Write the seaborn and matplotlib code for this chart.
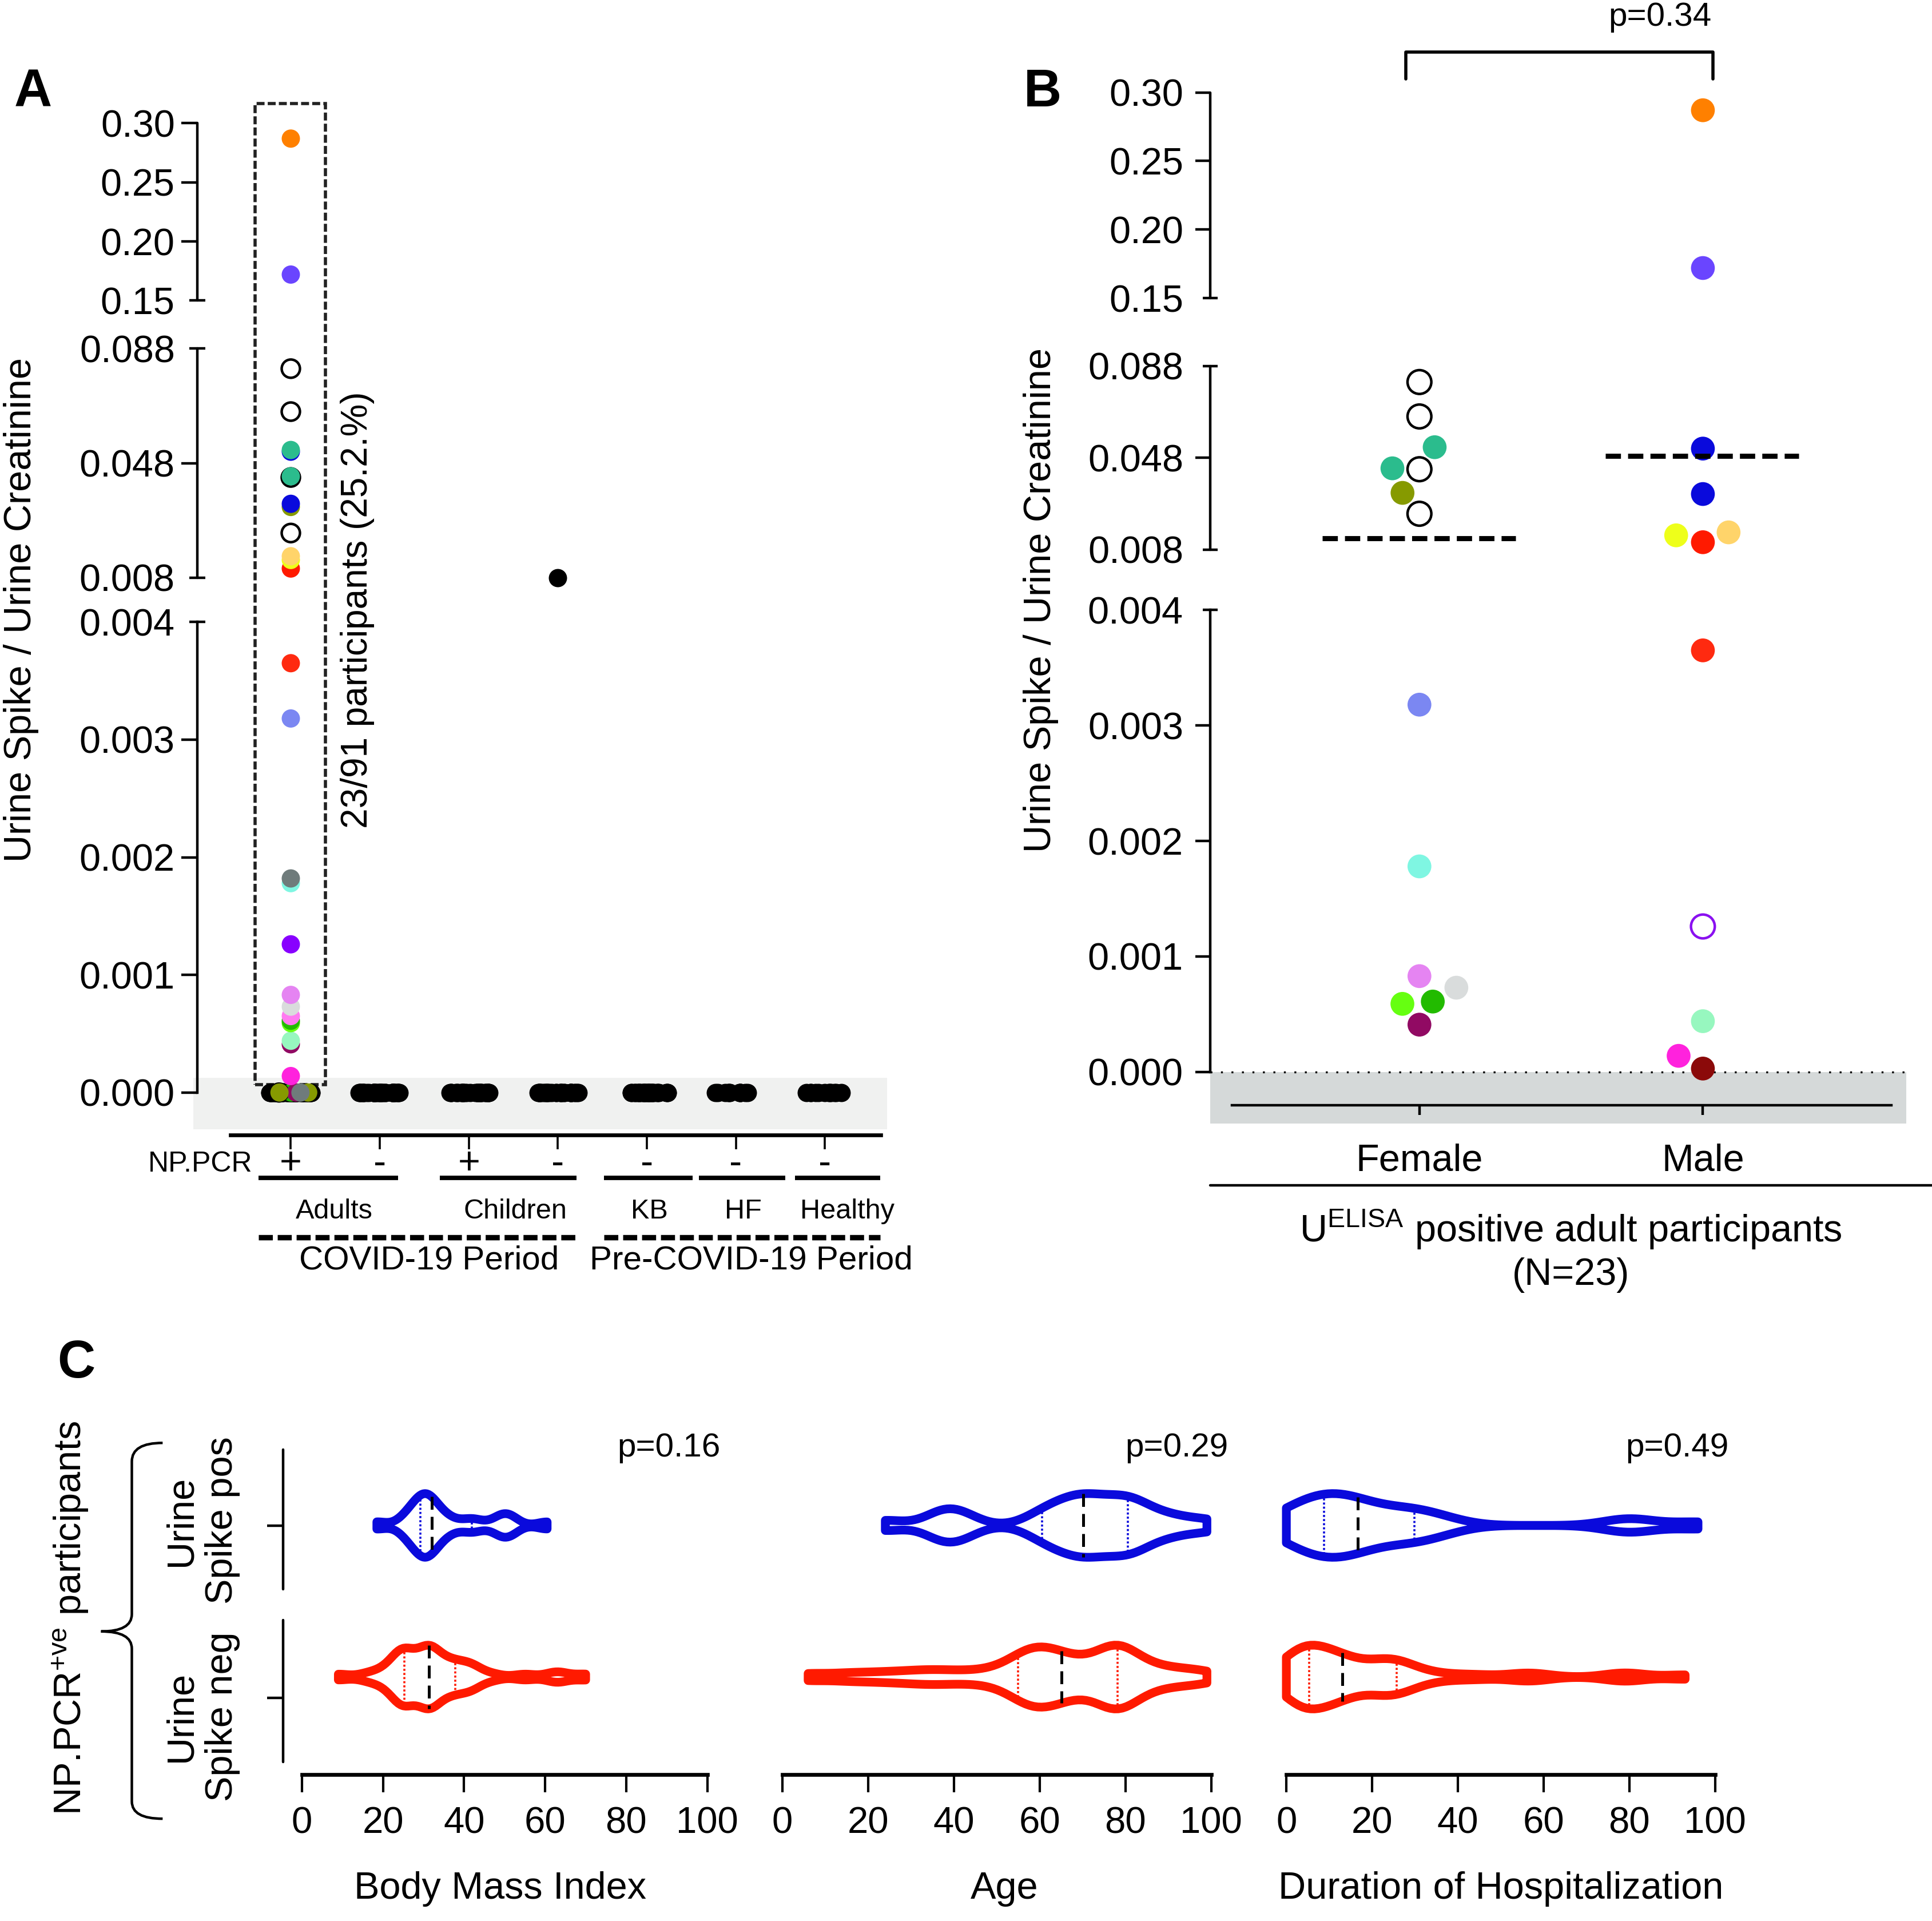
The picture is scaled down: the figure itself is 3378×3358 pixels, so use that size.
import numpy as np
import pandas as pd
import matplotlib
matplotlib.use("Agg")
import matplotlib.pyplot as plt
import matplotlib.transforms as mtransforms
from matplotlib.patches import Rectangle, PathPatch
from matplotlib.path import Path
from matplotlib.lines import Line2D
import seaborn as sns

# ======================= DATA =======================
# ---- Panel A ----
a_categories = ["Adults+", "Adults-", "Children+", "Children-", "KB", "HF", "Healthy"]
a_pcr_signs = ["+", "-", "+", "-", "-", "-", "-"]
a_group_names = ["Adults", "Children", "KB", "HF", "Healthy"]
a_period_names = ["COVID-19 Period", "Pre-COVID-19 Period"]
a_yticks = [0.0, 0.001, 0.002, 0.003, 0.004, 0.008, 0.048, 0.088, 0.15, 0.20, 0.25, 0.30]
a_ytick_labels = ["0.000", "0.001", "0.002", "0.003", "0.004", "0.008", "0.048", "0.088",
                  "0.15", "0.20", "0.25", "0.30"]
# positive adults (NP.PCR+) with detectable urine spike, ascending
a_pos_values = [0.00014, 0.00041, 0.00044, 0.00059, 0.00061, 0.00065, 0.00073, 0.00083,
                0.00126, 0.00178, 0.00182, 0.00318, 0.00365, 0.0112, 0.0142, 0.0155,
                0.0236, 0.0327, 0.0338, 0.043, 0.0434, 0.052, 0.0526, 0.066, 0.081,
                0.172, 0.287]
a_pos_colors = ["#FF22DD", "#910A63", "#97F7BF", "#66FF11", "#22BB00", "#FF7BF0", "#D9DCDC",
                "#E584F2", "#8800FF", "#7FF6E2", "#6F7B7B", "#7B87F2", "#FF2A10", "#FF1A00",
                "#EEFF1A", "#FFD46A", "white", "#869A00", "#0A0ADC", "white", "#2BBC8D",
                "#0A0ADC", "#2BBC8D", "white", "white", "#6A45FF", "#FF8000"]
# participants with zero urine spike, per category
a_zero_counts = [60, 40, 30, 30, 30, 12, 12]
a_zero_colors_adults = ["#22BB00", "white", "#910A63", "#869A00", "#6F7B7B", "#869A00"]
a_children_neg_value = [0.008]
a_summary_text = "23/91 participants (25.2.%)"

# ---- Panel B ----
b_categories = ["Female", "Male"]
b_yticks = a_yticks
b_ytick_labels = a_ytick_labels
b_female_values = [0.081, 0.066, 0.043, 0.0236, 0.0526, 0.0434, 0.0327, 0.00318, 0.00178,
                   0.00073, 0.00041, 0.00061, 0.00083, 0.00059]
b_female_colors = ["white", "white", "white", "white", "#2BBC8D", "#2BBC8D", "#869A00",
                   "#7B87F2", "#7FF6E2", "#D9DCDC", "#910A63", "#22BB00", "#E584F2", "#66FF11"]
b_female_edges = ["black", "black", "black", "black", "none", "none", "none",
                  "none", "none", "none", "none", "none", "none", "none"]
b_male_values = [0.287, 0.172, 0.052, 0.0322, 0.0155, 0.0112, 0.0142, 0.00365, 0.00126,
                 0.00044, 0.00003, 0.00014]
b_male_colors = ["#FF8000", "#6A45FF", "#0A0ADC", "#0A0ADC", "#FFD46A", "#FF1A00", "#EEFF1A",
                 "#FF2A10", "white", "#97F7BF", "#8B0A0A", "#FF22DD"]
b_male_edges = ["none", "none", "none", "none", "none", "none", "none",
                "none", "#8A10F0", "none", "none", "none"]
b_summary_lines = [0.0128, 0.0488]
b_pvalue = "p=0.34"

# ---- Panel C ----
c_groups = ["pos", "neg"]
c_bmi_pos = [18.5, 25, 26.5, 27.5, 28.5, 29, 29.5, 30, 30.5, 31, 31.5, 32, 32.5, 33.5, 35,
             37, 41, 43, 48, 50, 50.5, 52, 60.5]
c_bmi_neg = [9, 16, 19, 21, 22.5, 23.5, 24, 24.5, 25, 25, 25.3, 25.6, 26, 27, 28.5, 29.5,
             30, 30.5, 31, 31.2, 31.5, 31.8, 32, 32.5, 33, 34, 35.5, 36.5, 37, 37.5, 39, 40.5,
             41.5, 42, 43, 47, 55, 62, 64, 70]
c_age_pos = [24, 36, 38, 40, 43, 59, 62, 64, 66, 68, 70, 70.2, 72, 74, 76, 78, 80, 81, 82,
             84, 88, 92, 99]
c_age_neg = [6, 15, 22, 28, 33, 37, 42, 47, 51, 54, 55.2, 56.5, 57.5, 58.5, 59, 60, 61, 62,
             63.5, 65, 65.2, 67, 69, 71, 73, 75, 76, 77, 77.5, 78, 78.5, 79, 80, 81, 83, 85,
             88, 91, 95, 99]
c_dur_pos = [0, 1, 3, 5, 7, 8.5, 9.1, 11, 12, 13, 14.5, 16.6, 18, 20, 23, 26, 29, 30.6, 33,
             38, 79, 81, 96]
c_dur_neg = [0, 1, 1.5, 2, 3, 3.5, 4, 4.5, 5, 5, 5.5, 6, 7, 8, 9, 10, 11, 12, 12.5, 13, 13,
             15, 17, 19, 21, 22.5, 23.5, 24.5, 25, 25.5, 26.5, 28, 31, 36, 44, 55, 58, 78,
             80, 93]
c_xlabels = ["Body Mass Index", "Age", "Duration of Hospitalization"]
c_pvalues = ["p=0.16", "p=0.29", "p=0.49"]
c_xticks = [0, 20, 40, 60, 80, 100]

# ======================= STYLE / LAYOUT =======================
W, H, DPI = 3378, 3358, 200
RW, RH = 1568.0, 1559.0   # layout reference grid


def fx(x):
    return x / RW


def fy(y):
    return 1 - y / RH


def box(l, t, r, b):
    return [fx(l), fy(b), fx(r) - fx(l), fy(t) - fy(b)]


sns.set_theme(style="ticks")
plt.rcParams["font.family"] = ["Liberation Sans", "DejaVu Sans"]
plt.rcParams["mathtext.fontset"] = "custom"
plt.rcParams["mathtext.rm"] = "Liberation Sans"
plt.rcParams["mathtext.it"] = "Liberation Sans:italic"
plt.rcParams["mathtext.bf"] = "Liberation Sans:bold"
for k in ["text.color", "axes.edgecolor", "axes.labelcolor", "xtick.color", "ytick.color"]:
    plt.rcParams[k] = "black"

BLUE, RED = "#0A0ADC", "#FF1A00"
A_MS, B_MS = 11.5, 15


def piecewise_scale(values, pixels):
    v = np.asarray(values, float)
    p = np.asarray(pixels, float)
    s_lo = (p[1] - p[0]) / (v[1] - v[0])
    s_hi = (p[-1] - p[-2]) / (v[-1] - v[-2])

    def fwd(y):
        y = np.asarray(y, float)
        out = np.interp(y, v, p)
        out = np.where(y < v[0], p[0] + (y - v[0]) * s_lo, out)
        return np.where(y > v[-1], p[-1] + (y - v[-1]) * s_hi, out)

    def inv(q):
        q = np.asarray(q, float)
        out = np.interp(q, p, v)
        out = np.where(q < p[0], v[0] + (q - p[0]) / s_lo, out)
        return np.where(q > p[-1], v[-1] + (q - p[-1]) / s_hi, out)

    return fwd, inv


BREAK_VALS = [0, 0.004, 0.008, 0.088, 0.15, 0.30]
A_BREAK_PIX = [0, 382, 418, 604, 643, 787]
B_BREAK_PIX = [0, 375, 424, 573, 628, 795]
BREAK_ENDS = [0.004, 0.008, 0.088, 0.15]


def center_break_ticks(ax, ticks):
    for t, v in zip(ax.yaxis.get_major_ticks(), ticks):
        if any(np.isclose(v, b) for b in BREAK_ENDS):
            t.tick1line.set_marker("_")


def filled(colls):
    return [c for c in colls if len(c.get_offsets()) > 0]


fig = plt.figure(figsize=(W / DPI, H / DPI), dpi=DPI)

# ======================= PANEL A =======================
axA = fig.add_axes(box(157, 100, 720, 921))
fA, iA = piecewise_scale(BREAK_VALS, A_BREAK_PIX)
axA.set_yscale("function", functions=(fA, iA))
axA.axhspan(-0.000314, 0.000125, color="#F0F1F0", lw=0, zorder=0)

np.random.seed(5)
zero_groups = np.repeat(a_categories, a_zero_counts)
sns.stripplot(x=zero_groups, y=np.zeros(len(zero_groups)), order=a_categories, jitter=0.235,
              color="black", size=A_MS, linewidth=0, ax=axA)

n0 = len(axA.collections)
sns.stripplot(x=np.repeat("Adults+", len(a_zero_colors_adults)),
              y=np.zeros(len(a_zero_colors_adults)), order=a_categories, jitter=0.2,
              color="black", size=A_MS, ax=axA)
for c in filled(axA.collections[n0:]):
    c.set_facecolors(a_zero_colors_adults)
    c.set_edgecolors(["black" if col == "white" else "none" for col in a_zero_colors_adults])
    c.set_linewidths([1.3 if col == "white" else 0 for col in a_zero_colors_adults])

n0 = len(axA.collections)
sns.stripplot(x=np.repeat("Adults+", len(a_pos_values)), y=a_pos_values, order=a_categories,
              jitter=False, color="black", size=A_MS, ax=axA)
for c in filled(axA.collections[n0:]):
    c.set_facecolors(a_pos_colors)
    c.set_edgecolors(["black" if col == "white" else "none" for col in a_pos_colors])
    c.set_linewidths([1.6 if col == "white" else 0 for col in a_pos_colors])

sns.stripplot(x=["Children-"] * len(a_children_neg_value), y=a_children_neg_value,
              order=a_categories, jitter=False, color="black", size=A_MS, ax=axA)
for c in filled(axA.collections):
    c.set_clip_on(False)

axA.set_xlim(-1.094, 6.70)
axA.set_ylim(-0.00036, 0.30)
axA.set_xlabel("")
axA.set_ylabel("")
axA.spines[["top", "right"]].set_visible(False)
axA.spines["left"].set_position(("axes", 0.0053))
axA.spines["left"].set_bounds(0, 0.004)
axA.spines["left"].set_linewidth(1.6)
axA.spines["bottom"].set_bounds(-0.68, 6.63)
axA.spines["bottom"].set_linewidth(2.4)
axA.set_yticks(a_yticks, labels=a_ytick_labels)
axA.tick_params(axis="y", length=10, width=1.6, pad=4, labelsize=24)
axA.set_xticks(range(len(a_categories)), labels=[""] * len(a_categories))
axA.tick_params(axis="x", length=9, width=1.3)
center_break_ticks(axA, a_yticks)

tAy = mtransforms.blended_transform_factory(axA.transAxes, axA.transData)
for lo, hi in [(0.008, 0.088), (0.15, 0.30)]:
    axA.add_line(Line2D([0.0053, 0.0053], [lo, hi], transform=tAy, color="black", lw=1.6,
                        clip_on=False))

tAx = mtransforms.blended_transform_factory(axA.transData, axA.transAxes)
# dashed box around positive participants
axA.add_patch(Rectangle((-0.40, 0.0499), 0.79, 1.0195 - 0.0499, transform=tAx, fill=False,
                        ec="#222222", lw=2.0, ls=(0, (2.5, 1)), clip_on=False))
axA.text(0.748, 0.519, a_summary_text, transform=tAx, rotation=90, ha="center", va="center",
         fontsize=23)


def ay(y):
    return (921 - y) / 821.0


for i, s in enumerate(a_pcr_signs):
    axA.text(i, ay(945), s, transform=tAx, ha="center", va="center", fontsize=24)
axA.text(-0.43, ay(945), "NP.PCR", transform=tAx, ha="right", va="center", fontsize=18)
for x0, x1 in [(-0.36, 1.205), (1.676, 3.213), (3.518, 4.515), (4.584, 5.554), (5.665, 6.62)]:
    axA.add_line(Line2D([x0, x1], [ay(956), ay(956)], transform=tAx, color="black", lw=2.8,
                        clip_on=False, solid_capstyle="butt"))
for name, xc in zip(a_group_names, [0.485, 2.52, 4.03, 5.08, 6.25]):
    axA.text(xc, ay(983), name, transform=tAx, ha="center", va="center", fontsize=17.5)
for x0, x1 in [(-0.36, 3.213), (3.518, 6.62)]:
    axA.add_line(Line2D([x0, x1], [ay(1004), ay(1004)], transform=tAx, color="black", lw=3.4,
                        ls=(0, (2.6, 0.9)), clip_on=False))
for name, xc in zip(a_period_names, [1.55, 5.17]):
    axA.text(xc, ay(1023), name, transform=tAx, ha="center", va="center", fontsize=21)

fig.text(fx(17), fy(495), "Urine Spike / Urine Creatinine", rotation=90, ha="center",
         va="center", fontsize=24)
fig.text(fx(27), fy(75), "A", ha="center", va="center", fontsize=33, fontweight="bold")

# ======================= PANEL B =======================
axB = fig.add_axes(box(982, 75, 1547, 912))
fB, iB = piecewise_scale(BREAK_VALS, B_BREAK_PIX)
axB.set_yscale("function", functions=(fB, iB))
axB.axhspan(-0.000448, 0, color="#D5D9D9", lw=0, zorder=0)
axB.axhline(0, color="black", lw=1.2, ls=(0, (1, 4.5)), zorder=0.5)

b_df = pd.DataFrame({
    "sex": [b_categories[0]] * len(b_female_values) + [b_categories[1]] * len(b_male_values),
    "value": b_female_values + b_male_values,
})
n0 = len(axB.collections)
sns.swarmplot(data=b_df, x="sex", y="value", order=b_categories, color="black", size=B_MS,
              linewidth=1.6, ax=axB)
for c, cols, edges in zip(filled(axB.collections[n0:]), [b_female_colors, b_male_colors],
                          [b_female_edges, b_male_edges]):
    c.set_facecolors(cols)
    c.set_edgecolors(edges)
    c.set_linewidth(1.6)
    c.set_clip_on(False)

cat_pos = np.arange(len(b_categories))
axB.hlines(b_summary_lines, cat_pos - 0.343, cat_pos + 0.339, colors="black", lw=3.2,
           linestyles=(0, (3, 1.4)), zorder=3)

axB.set_xlim(-0.739, 1.717)
axB.set_ylim(-0.000448, 0.30)
axB.set_xlabel("")
axB.set_ylabel("")
axB.spines[["top", "right"]].set_visible(False)
axB.spines["left"].set_bounds(0, 0.004)
axB.spines["left"].set_linewidth(1.6)
axB.spines["bottom"].set_position(("data", -0.000288))
axB.spines["bottom"].set_bounds(-0.661, 1.665)
axB.spines["bottom"].set_linewidth(1.6)
axB.set_yticks(b_yticks, labels=b_ytick_labels)
axB.tick_params(axis="y", length=9.3, width=1.6, pad=7.5, labelsize=24)
axB.set_xticks(cat_pos, labels=b_categories)
axB.tick_params(axis="x", length=6, width=1.6, pad=18, labelsize=24)
center_break_ticks(axB, b_yticks)

tBy = mtransforms.blended_transform_factory(axB.transAxes, axB.transData)
for lo, hi in [(0.008, 0.088), (0.15, 0.30)]:
    axB.add_line(Line2D([0, 0], [lo, hi], transform=tBy, color="black", lw=1.6, clip_on=False))

tBx = mtransforms.blended_transform_factory(axB.transData, axB.transAxes)
axB.add_line(Line2D([-0.048, -0.048, 1.035, 1.035], [1.0131, 1.0394, 1.0394, 1.0131],
                    transform=tBx, color="black", lw=2.0, clip_on=False))
axB.text(0.848, 1.0729, b_pvalue, transform=tBx, ha="center", va="center", fontsize=21)

fig.add_artist(Line2D([fx(982), 1.0], [fy(962), fy(962)], transform=fig.transFigure,
                      color="black", lw=1.6))
fig.text(fx(1275), fy(998), r"U$^{\mathrm{ELISA}}$ positive adult participants",
         ha="center", va="center", fontsize=24)
fig.text(fx(1275), fy(1035), "(N=23)", ha="center", va="center", fontsize=24)
fig.text(fx(845), fy(487), "Urine Spike / Urine Creatinine", rotation=90, ha="center",
         va="center", fontsize=24)
fig.text(fx(846), fy(75), "B", ha="center", va="center", fontsize=33, fontweight="bold")

# ======================= PANEL C =======================
c_data = [(c_bmi_pos, c_bmi_neg), (c_age_pos, c_age_neg), (c_dur_pos, c_dur_neg)]
c_boxes = [(245, 574), (635, 983), (1044, 1392)]
c_p_x = [543, 955, 1361]
c_lab_x = [406, 815, 1218]
for k, ((pos, neg), (l, r)) in enumerate(zip(c_data, c_boxes)):
    ax = fig.add_axes(box(l, 1150, r, 1440))
    df = pd.DataFrame({"value": list(pos) + list(neg),
                       "group": [c_groups[0]] * len(pos) + [c_groups[1]] * len(neg)})
    sns.violinplot(data=df, x="value", y="group", hue="group", order=c_groups,
                   hue_order=c_groups, palette=[BLUE, RED], fill=False, inner="quart", cut=0,
                   density_norm="width", width=0.42, linewidth=5.5, bw_adjust=0.42,
                   inner_kws=dict(linewidth=1.4), legend=False, ax=ax)
    for coll in ax.collections:
        coll.set_clip_on(False)
        coll.set_joinstyle("round")
    meds = [np.median(pos), np.median(neg)]
    cols = [BLUE, RED]
    for ln in ax.lines:
        xd = np.asarray(ln.get_xdata(), float)
        yd = np.asarray(ln.get_ydata(), float)
        if len(xd) == 2:
            gi = int(round(np.mean(yd)))
            gi = min(max(gi, 0), 1)
            if np.isclose(xd[0], meds[gi]):
                ln.set_color("black")
                ln.set_linestyle((0, (4.5, 2.5)))
                ln.set_linewidth(1.8)
            else:
                ln.set_color(cols[gi])
                ln.set_linestyle((0, (1, 1)))
                ln.set_linewidth(1.3)
            ln.set_clip_on(False)
    ax.set_xlim(0, 100)
    ax.set_ylim(1.642, -0.715)
    ax.set_xlabel("")
    ax.set_ylabel("")
    ax.spines[["top", "right"]].set_visible(False)
    ax.spines["bottom"].set_linewidth(2.4)
    ax.set_xticks(c_xticks)
    ax.tick_params(axis="x", length=11, width=1.5, pad=9, labelsize=23.5)
    if k == 0:
        off = 15.0 / (r - l)
        ax.spines["left"].set_position(("axes", -off))
        ax.spines["left"].set_color("none")
        ax.set_yticks([0, 1.138], labels=["", ""])
        ax.tick_params(axis="y", length=10, width=1.6)
        ty = mtransforms.blended_transform_factory(ax.transAxes, ax.transData)
        for lo, hi in [(-0.5, 0.42), (0.626, 1.561)]:
            ax.add_line(Line2D([-off, -off], [lo, hi], transform=ty, color="black", lw=1.6,
                               clip_on=False))
    else:
        ax.spines["left"].set_visible(False)
        ax.set_yticks([])
    fig.text(fx(c_p_x[k]), fy(1175), c_pvalues[k], ha="center", va="center", fontsize=21)
    fig.text(fx(c_lab_x[k]), fy(1533), c_xlabels[k], ha="center", va="center", fontsize=24)

fig.text(fx(164), fy(1234), "Urine\nSpike pos", rotation=90, ha="center", va="center",
         multialignment="center", fontsize=24)
fig.text(fx(164), fy(1393), "Urine\nSpike neg", rotation=90, ha="center", va="center",
         multialignment="center", fontsize=24)
fig.text(fx(57), fy(1313), r"NP.PCR$^{\mathrm{+ve}}$ participants", rotation=90, ha="center",
         va="center", fontsize=24)
fig.text(fx(62), fy(1107), "C", ha="center", va="center", fontsize=33, fontweight="bold")

# curly brace
bp = [(132, 1171), (107, 1171), (107, 1186), (107, 1310), (107, 1324), (82, 1324),
      (107, 1324), (107, 1338), (107, 1462), (107, 1476), (132, 1476)]
verts = [(fx(x), fy(y)) for x, y in bp]
codes = [Path.MOVETO, Path.CURVE3, Path.CURVE3, Path.LINETO, Path.CURVE3, Path.CURVE3,
         Path.CURVE3, Path.CURVE3, Path.LINETO, Path.CURVE3, Path.CURVE3]
fig.add_artist(PathPatch(Path(verts, codes), transform=fig.transFigure, fill=False,
                         lw=1.6, ec="black"))

fig.savefig("out.png", dpi=DPI)
